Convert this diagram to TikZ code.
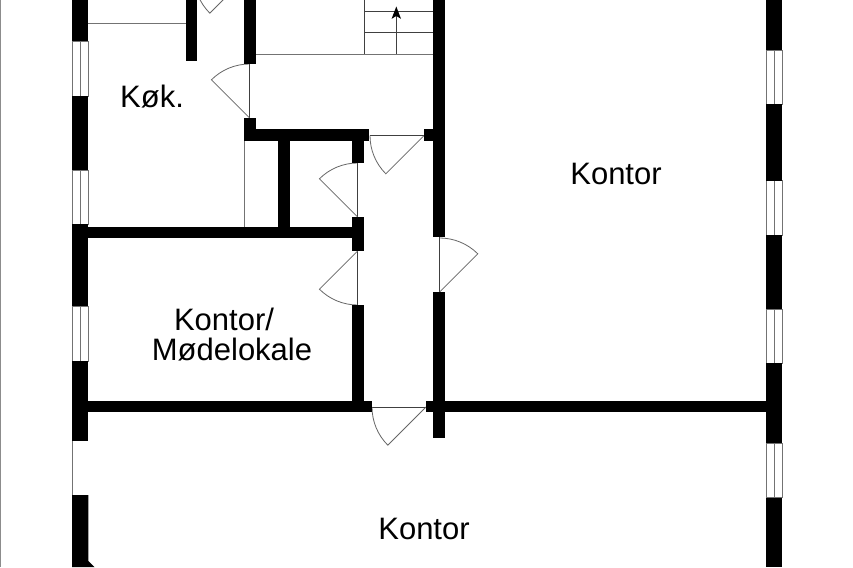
\documentclass[tikz,border=0pt]{standalone}
\usepackage{fontspec}
\setmainfont{Liberation Sans}
\usetikzlibrary{arrows.meta}
\tikzset{
  wallfill/.style={fill=black,draw=none},
  thingray/.style={draw=black!55,line width=0.9pt},
  jamb/.style={draw=black!75,line width=0.9pt},
  leaf/.style={draw=black!60,line width=0.8pt},
  roomlabel/.style={font=\fontsize{31}{31}\selectfont,anchor=base,inner sep=0pt,text=black}
}
\newcommand{\wl}[4]{\fill[wallfill] (#1,#2) rectangle (#3,#4);}
\newcommand{\winv}[3]{\draw[thingray] (#1,#2) rectangle (#1+15.5,#3); \draw[thingray] (#1+7.75,#2) -- (#1+7.75,#3);}
\newcommand{\doorleaf}[4]{\draw[leaf] (#1,#2) -- ++(#3:54) arc[start angle=#3,end angle=#4,radius=54];}
\begin{document}
\begin{tikzpicture}[x=1pt,y=-1pt]
\useasboundingbox (0,0) rectangle (853,567);
\fill[white] (0,0) rectangle (853,567);
\begin{scope}
\clip (0,0) rectangle (853,567);
% page edge
\draw[draw=black!45,line width=1pt] (0.5,0) -- (0.5,567);
% thin gray lines
\draw[thingray] (88,23) -- (186,23);
\draw[thingray] (256,54) -- (433,54);
\draw[thingray] (244,141) -- (244,227);
\draw[thingray] (72.5,441) -- (72.5,495);
% windows left
\winv{72.5}{41}{96}
\winv{72.5}{170}{224}
\winv{72.5}{306}{361}
% windows right
\winv{766.5}{50}{104.5}
\winv{766.5}{180.5}{235}
\winv{766.5}{309}{363}
\winv{766.5}{443}{497.5}
% stairs
\draw[jamb] (364.3,0) -- (364.3,54);
\draw[jamb] (364.3,11.3) -- (433,11.3);
\draw[jamb] (364.3,32.7) -- (433,32.7);
\draw[jamb] (396.3,54) -- (396.3,14);
\fill[black] (396.3,6.5) -- (401,18.8) -- (396.3,16) -- (391.6,18.8) -- cycle;
% jambs
\draw[jamb] (249.6,64) -- (249.6,118);
\draw[jamb] (357.6,163) -- (357.6,217);
\draw[jamb] (357.6,251) -- (357.6,305);
\draw[jamb] (439.6,237) -- (439.6,292);
\draw[jamb] (369.5,135.6) -- (424,135.6);
\draw[jamb] (372,407) -- (426,407);
% door leaves
\doorleaf{249.6}{118}{225}{270}
\doorleaf{248}{-25}{135}{180}
\doorleaf{424}{135.6}{135}{180}
\doorleaf{357.6}{217}{225}{270}
\doorleaf{357.6}{251}{135}{90}
\doorleaf{439.6}{292}{-45}{-90}
\doorleaf{426}{407}{135}{180}
% outer walls left
\wl{72}{0}{88.3}{41}
\wl{72}{96}{88.3}{170}
\wl{72}{224}{88.3}{306}
\wl{72}{361}{88.3}{441}
\fill[wallfill] (72,495) -- (88.3,495) -- (88.3,561) -- (94.5,567) -- (72,567) -- cycle;
% outer walls right
\wl{766}{0}{782.3}{50}
\wl{766}{104.5}{782.3}{180.5}
\wl{766}{235}{782.3}{309}
\wl{766}{363}{782.3}{443}
\wl{766}{497.5}{782.3}{567}
% interior walls
\wl{185.7}{0}{197.3}{61}
\wl{244}{0}{255.8}{64}
\wl{244}{118}{255.8}{141}
\wl{244}{129.3}{369.3}{140.8}
\wl{278.3}{140}{290}{228}
\wl{352}{140}{363.5}{162.7}
\wl{352}{217.3}{363.5}{251}
\wl{352}{305.3}{363.5}{402}
\wl{88}{226.7}{353}{238.3}
\wl{88}{400.7}{372}{412}
\wl{426}{400.7}{767}{412}
\wl{433.3}{0}{445}{237.3}
\wl{433.3}{291.7}{445}{438.3}
\wl{424}{129.3}{434}{140.8}
\end{scope}
% labels
\node[roomlabel] (kok) at (152,107.3) {Køk.};
\node[roomlabel] (k1) at (616,184) {Kontor};
\node[roomlabel] (k2) at (224,330) {Kontor/};
\node[roomlabel] (k3) at (232,360.7) {Mødelokale};
\node[roomlabel] (k4) at (424,539) {Kontor};
\end{tikzpicture}
\end{document}
